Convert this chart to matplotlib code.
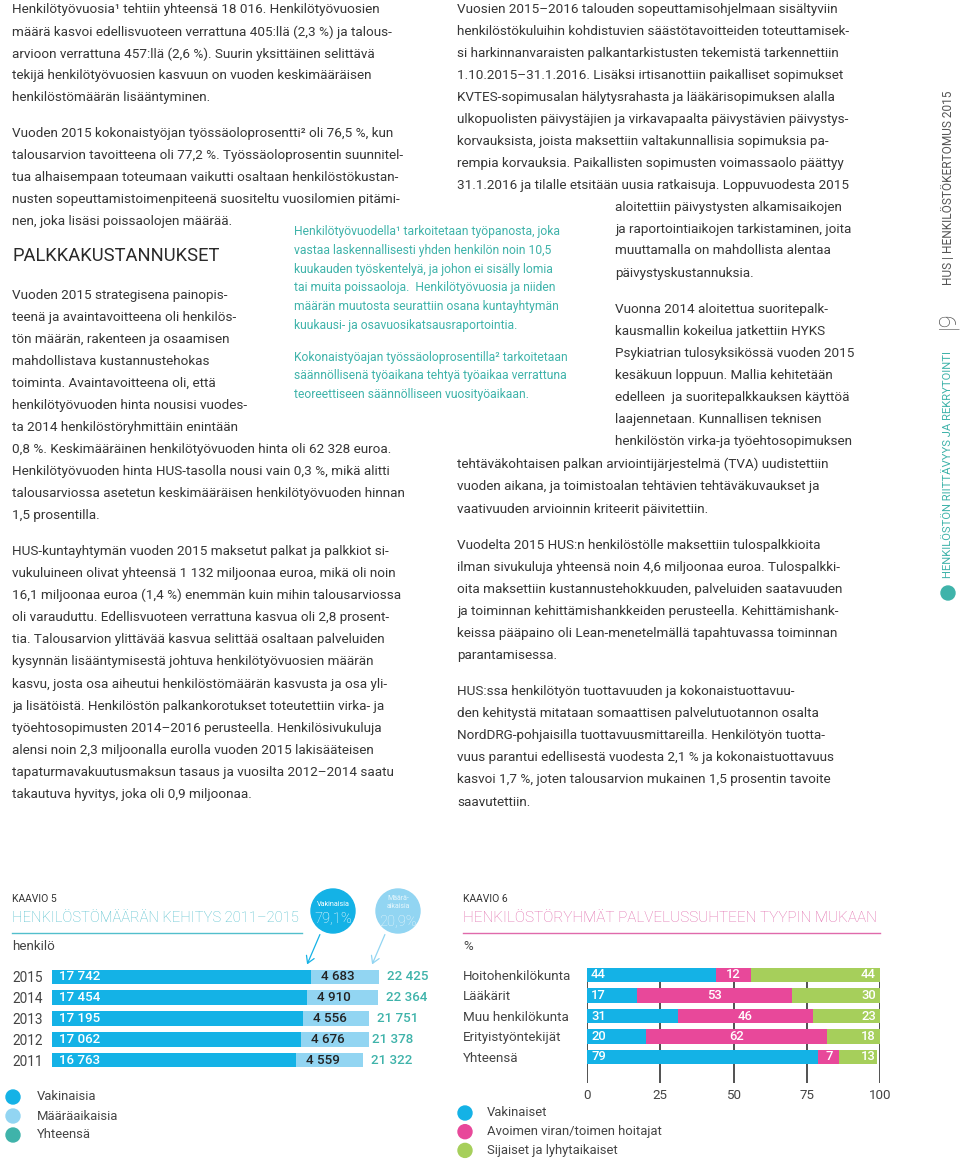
import matplotlib.pyplot as plt
from matplotlib.patches import Circle, FancyArrowPatch

W, H = 960, 1165
plt.rcParams['font.family'] = ['Roboto', 'DejaVu Sans']

TXT = "#363636"
TEAL = "#3fb3aa"
BLUE = "#14b2e6"
LIGHT = "#92d5f2"
PINK = "#e8489a"
GREEN = "#a6cf5b"
TITLE1 = "#52bfcc"
TITLE2 = "#e06aab"

# ---- data, kaavio 5
years = ["2015", "2014", "2013", "2012", "2011"]
vakinaisia = [17742, 17454, 17195, 17062, 16763]
maaraaikaisia = [4683, 4910, 4556, 4676, 4559]
yhteensa = [22425, 22364, 21751, 21378, 21322]
share_labels = ["79,1%", "20,9%"]

# ---- data, kaavio 6
groups = ["Hoitohenkilökunta", "Lääkärit", "Muu henkilökunta", "Erityistyöntekijät", "Yhteensä"]
vakinaiset_pct = [44, 17, 31, 20, 79]
avoimet_pct = [12, 53, 46, 62, 7]
sijaiset_pct = [44, 30, 23, 18, 13]
pct_ticks = [0, 25, 50, 75, 100]

# ---- body text
left_a = [
    "Henkilötyövuosia¹ tehtiin yhteensä 18 016. Henkilötyövuosien",
    "määrä kasvoi edellisvuoteen verrattuna 405:llä (2,3 %) ja talous-",
    "arvioon verrattuna 457:llä (2,6 %). Suurin yksittäinen selittävä",
    "tekijä henkilötyövuosien kasvuun on vuoden keskimääräisen",
    "henkilöstömäärän lisääntyminen.",
]
left_b = [
    "Vuoden 2015 kokonaistyöjan työssäoloprosentti² oli 76,5 %, kun",
    "talousarvion tavoitteena oli 77,2 %. Työssäoloprosentin suunnitel-",
    "tua alhaisempaan toteumaan vaikutti osaltaan henkilöstökustan-",
    "nusten sopeuttamistoimenpiteenä suositeltu vuosilomien pitämi-",
    "nen, joka lisäsi poissaolojen määrää.",
]
left_c = [
    "Vuoden 2015 strategisena painopis-",
    "teenä ja avaintavoitteena oli henkilös-",
    "tön määrän, rakenteen ja osaamisen",
    "mahdollistava kustannustehokas",
    "toiminta. Avaintavoitteena oli, että",
    "henkilötyövuoden hinta nousisi vuodes-",
    "ta 2014 henkilöstöryhmittäin enintään",
    "0,8 %. Keskimääräinen henkilötyövuoden hinta oli 62 328 euroa.",
    "Henkilötyövuoden hinta HUS-tasolla nousi vain 0,3 %, mikä alitti",
    "talousarviossa asetetun keskimääräisen henkilötyövuoden hinnan",
    "1,5 prosentilla.",
]
left_d = [
    "HUS-kuntayhtymän vuoden 2015 maksetut palkat ja palkkiot si-",
    "vukuluineen olivat yhteensä 1 132 miljoonaa euroa, mikä oli noin",
    "16,1 miljoonaa euroa (1,4 %) enemmän kuin mihin talousarviossa",
    "oli varauduttu. Edellisvuoteen verrattuna kasvua oli 2,8 prosent-",
    "tia. Talousarvion ylittävää kasvua selittää osaltaan palveluiden",
    "kysynnän lisääntymisestä johtuva henkilötyövuosien määrän",
    "kasvu, josta osa aiheutui henkilöstömäärän kasvusta ja osa yli-",
    "ja lisätöistä. Henkilöstön palkankorotukset toteutettiin virka- ja",
    "työehtosopimusten 2014–2016 perusteella. Henkilösivukuluja",
    "alensi noin 2,3 miljoonalla eurolla vuoden 2015 lakisääteisen",
    "tapaturmavakuutusmaksun tasaus ja vuosilta 2012–2014 saatu",
    "takautuva hyvitys, joka oli 0,9 miljoonaa.",
]
side_a = [
    "Henkilötyövuodella¹ tarkoitetaan työpanosta, joka",
    "vastaa laskennallisesti yhden henkilön noin 10,5",
    "kuukauden työskentelyä, ja johon ei sisälly lomia",
    "tai muita poissaoloja.  Henkilötyövuosia ja niiden",
    "määrän muutosta seurattiin osana kuntayhtymän",
    "kuukausi- ja osavuosikatsausraportointia.",
]
side_b = [
    "Kokonaistyöajan työssäoloprosentilla² tarkoitetaan",
    "säännöllisenä työaikana tehtyä työaikaa verrattuna",
    "teoreettiseen säännölliseen vuosityöaikaan.",
]
right_a = [
    "Vuosien 2015–2016 talouden sopeuttamisohjelmaan sisältyviin",
    "henkilöstökuluihin kohdistuvien säästötavoitteiden toteuttamisek-",
    "si harkinnanvaraisten palkantarkistusten tekemistä tarkennettiin",
    "1.10.2015–31.1.2016. Lisäksi irtisanottiin paikalliset sopimukset",
    "KVTES-sopimusalan hälytysrahasta ja lääkärisopimuksen alalla",
    "ulkopuolisten päivystäjien ja virkavapaalta päivystävien päivystys-",
    "korvauksista, joista maksettiin valtakunnallisia sopimuksia pa-",
    "rempia korvauksia. Paikallisten sopimusten voimassaolo päättyy",
    "31.1.2016 ja tilalle etsitään uusia ratkaisuja. Loppuvuodesta 2015",
]
right_b = [
    "aloitettiin päivystysten alkamisaikojen",
    "ja raportointiaikojen tarkistaminen, joita",
    "muuttamalla on mahdollista alentaa",
    "päivystyskustannuksia.",
]
right_c = [
    "Vuonna 2014 aloitettua suoritepalk-",
    "kausmallin kokeilua jatkettiin HYKS",
    "Psykiatrian tulosyksikössä vuoden 2015",
    "kesäkuun loppuun. Mallia kehitetään",
    "edelleen  ja suoritepalkkauksen käyttöä",
    "laajennetaan. Kunnallisen teknisen",
    "henkilöstön virka-ja työehtosopimuksen",
]
right_d = [
    "tehtäväkohtaisen palkan arviointijärjestelmä (TVA) uudistettiin",
    "vuoden aikana, ja toimistoalan tehtävien tehtäväkuvaukset ja",
    "vaativuuden arvioinnin kriteerit päivitettiin.",
]
right_e = [
    "Vuodelta 2015 HUS:n henkilöstölle maksettiin tulospalkkioita",
    "ilman sivukuluja yhteensä noin 4,6 miljoonaa euroa. Tulospalkki-",
    "oita maksettiin kustannustehokkuuden, palveluiden saatavuuden",
    "ja toiminnan kehittämishankkeiden perusteella. Kehittämishank-",
    "keissa pääpaino oli Lean-menetelmällä tapahtuvassa toiminnan",
    "parantamisessa.",
]
right_f = [
    "HUS:ssa henkilötyön tuottavuuden ja kokonaistuottavuu-",
    "den kehitystä mitataan somaattisen palvelutuotannon osalta",
    "NordDRG-pohjaisilla tuottavuusmittareilla. Henkilötyön tuotta-",
    "vuus parantui edellisestä vuodesta 2,1 % ja kokonaistuottavuus",
    "kasvoi 1,7 %, joten talousarvion mukainen 1,5 prosentin tavoite",
    "saavutettiin.",
]

BODY = 9.7


def fmt(v):
    return f"{v:,}".replace(",", " ")


fig = plt.figure(figsize=(9.6, 11.65), dpi=100)

# page layer in pixel coordinates
bg = fig.add_axes([0, 0, 1, 1], zorder=0)
bg.set_xlim(0, W)
bg.set_ylim(H, 0)
bg.axis("off")


def block(x, y0, lines, step=21.95, size=BODY, color=TXT):
    for i, s in enumerate(lines):
        bg.text(x, y0 + i * step, s, fontsize=size, color=color, va="center", ha="left")


block(12, 10, left_a)
block(12, 134, left_b)
bg.text(12, 256, "PALKKAKUSTANNUKSET", fontsize=13.2, color="#2a2a2a", va="center")
block(12, 295, left_c, step=22.1)
block(12, 551, left_d, step=22.18)
block(294, 232, side_a, step=18.6, size=8.7, color=TEAL)
block(294, 357, side_b, step=18.9, size=8.7, color=TEAL)
block(457, 10, right_a)
block(615, 207, right_b, step=22)
block(615, 310, right_c, step=22)
block(457, 464, right_d, step=22.5)
block(457, 546, right_e, step=22)
block(457, 692, right_f, step=22)

# vertical page tab
bg.text(948, 188, "HUS | HENKILÖSTÖKERTOMUS 2015", rotation=90, fontsize=8.6,
        color="#555555", ha="center", va="center")
bg.text(948, 320, "|9", rotation=90, fontsize=17, color="#555555",
        ha="center", va="center", fontweight="light")
bg.text(948, 465, "HENKILÖSTÖN RIITTÄVYYS JA REKRYTOINTI", rotation=90, fontsize=8.1,
        color=TEAL, ha="center", va="center")
bg.add_patch(Circle((948, 593), 7, color=TEAL))

# ---- KAAVIO 5 header
bg.text(12, 899, "KAAVIO 5", fontsize=7.5, color="#333333", va="center")
bg.text(12, 918, "HENKILÖSTÖMÄÄRÄN KEHITYS 2011–2015", fontsize=10.6, color=TITLE1,
        va="center", fontweight="light")
bg.plot([12, 302], [933, 933], color=TITLE1, lw=1)
bg.text(12, 946, "henkilö", fontsize=9.6, color="#444444", va="center")

# share bubbles
for cx, col, lab, small in [(333, BLUE, share_labels[0], ["Vakinaisia"]),
                            (398, LIGHT, share_labels[1], ["Määrä-", "aikaisia"])]:
    bg.add_patch(Circle((cx, 911), 22, color=col, zorder=3))
    if len(small) == 1:
        bg.text(cx, 904, small[0], fontsize=5.2, color="white", ha="center", va="center", zorder=4)
        bg.text(cx, 919, lab, fontsize=10.5, color="white", ha="center", va="center",
                fontweight="light", zorder=4)
    else:
        bg.text(cx, 899, small[0], fontsize=5, color="#e6f6fc", ha="center", va="center", zorder=4)
        bg.text(cx, 906, small[1], fontsize=5, color="#e6f6fc", ha="center", va="center", zorder=4)
        bg.text(cx, 922, lab, fontsize=10.5, color="#e6f6fc", ha="center", va="center",
                fontweight="light", zorder=4)
bg.add_patch(FancyArrowPatch((321, 932), (306, 967), arrowstyle="->,head_length=5,head_width=3",
                             color=BLUE, lw=0.9, zorder=3))
bg.add_patch(FancyArrowPatch((386, 932), (371, 967), arrowstyle="->,head_length=5,head_width=3",
                             color=LIGHT, lw=0.9, zorder=3))

# legend kaavio 5
for i, (lab, col) in enumerate(zip(["Vakinaisia", "Määräaikaisia", "Yhteensä"], [BLUE, LIGHT, TEAL])):
    y = 1097 + i * 19
    bg.add_patch(Circle((13, y), 7, color=col))
    bg.text(37, y, lab, fontsize=9.4, color="#444444", va="center")

# ---- KAAVIO 5 bars
PXU = 0.014585  # px per person
row1 = 20.75
top1 = 977 - row1 / 2
ax1 = fig.add_axes([52 / W, 1 - (top1 + 5 * row1) / H, 25000 * PXU / W, 5 * row1 / H], zorder=2)
ax1.set_facecolor("none")
ypos = list(range(len(years)))
ax1.barh(ypos, vakinaisia, height=0.72, color=BLUE, linewidth=0)
ax1.barh(ypos, maaraaikaisia, left=vakinaisia, height=0.72, color=LIGHT, linewidth=0)
ax1.set_xlim(0, 25000)
ax1.set_ylim(len(years) - 0.5, -0.5)
ax1.set_yticks(ypos, years)
ax1.tick_params(axis="y", length=0, pad=40 * 0.72, labelsize=9.8, labelcolor="#444444")
for t in ax1.get_yticklabels():
    t.set_ha("left")
ax1.set_xticks([])
for sp in ax1.spines.values():
    sp.set_visible(False)
for i in ypos:
    ax1.annotate(fmt(vakinaisia[i]), (0, i), xytext=(7, 0), textcoords="offset pixels",
                 color="white", fontsize=9.6, fontweight="medium", va="center", ha="left")
    ax1.annotate(fmt(maaraaikaisia[i]), (vakinaisia[i], i), xytext=(10, 0), textcoords="offset pixels",
                 color="#222222", fontsize=9.6, fontweight="medium", va="center", ha="left")
    ax1.annotate(fmt(yhteensa[i]), (yhteensa[i], i), xytext=(8, 0), textcoords="offset pixels",
                 color=TEAL, fontsize=9.6, fontweight="medium", va="center", ha="left",
                 annotation_clip=False)

# ---- KAAVIO 6 header
bg.text(463, 899, "KAAVIO 6", fontsize=7.5, color="#333333", va="center")
bg.text(463, 918, "HENKILÖSTÖRYHMÄT PALVELUSSUHTEEN TYYPIN MUKAAN", fontsize=10.95, color=TITLE2,
        va="center", fontweight="light")
bg.plot([463, 880], [933, 933], color=TITLE2, lw=1)
bg.text(463, 946, "%", fontsize=9.6, color="#444444", va="center")

for i, (lab, col) in enumerate(zip(["Vakinaiset", "Avoimen viran/toimen hoitajat", "Sijaiset ja lyhytaikaiset"],
                                   [BLUE, PINK, GREEN])):
    y = 1113 + i * 18.7
    bg.add_patch(Circle((465, y), 7, color=col))
    bg.text(487, y, lab, fontsize=9.4, color="#444444", va="center")

# ---- KAAVIO 6 bars
row2 = 20.5
top2 = 975 - row2 / 2
bottom2 = 1083
ax2 = fig.add_axes([587 / W, 1 - bottom2 / H, 293 / W, (bottom2 - top2) / H], zorder=2)
ax2.set_facecolor("none")
n = len(groups)
gpos = list(range(n))
ax2.set_xlim(0, 100)
ax2.set_ylim(-0.5 + (bottom2 - top2) / row2, -0.5)
left2 = [a + b for a, b in zip(vakinaiset_pct, avoimet_pct)]
ax2.barh(gpos, vakinaiset_pct, height=0.73, color=BLUE, linewidth=0, zorder=2)
ax2.barh(gpos, avoimet_pct, left=vakinaiset_pct, height=0.73, color=PINK, linewidth=0, zorder=2)
ax2.barh(gpos, sijaiset_pct, left=left2, height=0.73, color=GREEN, linewidth=0, zorder=2)
for t in pct_ticks:
    ax2.axvline(t, ymin=0, ymax=1 - 0.2 / ((bottom2 - top2) / row2), color="#333333", lw=1.2, zorder=1)
ax2.set_xticks(pct_ticks, [str(t) for t in pct_ticks])
ax2.tick_params(axis="x", length=0, pad=4, labelsize=9.6, labelcolor="#444444")
ax2.set_yticks(gpos, groups)
ax2.tick_params(axis="y", length=0, pad=124 * 0.72, labelsize=9.6, labelcolor="#444444")
for t in ax2.get_yticklabels():
    t.set_ha("left")
for sp in ax2.spines.values():
    sp.set_visible(False)
for i in gpos:
    ax2.annotate(str(vakinaiset_pct[i]), (0, i), xytext=(4, 0), textcoords="offset pixels",
                 color="white", fontsize=9.4, fontweight="medium", va="center", ha="left", zorder=3)
    ax2.text(vakinaiset_pct[i] + avoimet_pct[i] / 2, i, str(avoimet_pct[i]), color="white",
             fontsize=9.4, fontweight="medium", va="center", ha="center", zorder=3)
    ax2.annotate(str(sijaiset_pct[i]), (100, i), xytext=(-4, 0), textcoords="offset pixels",
                 color="white", fontsize=9.4, fontweight="medium", va="center", ha="right", zorder=3)

fig.savefig("out.png", dpi=100, facecolor="white")
